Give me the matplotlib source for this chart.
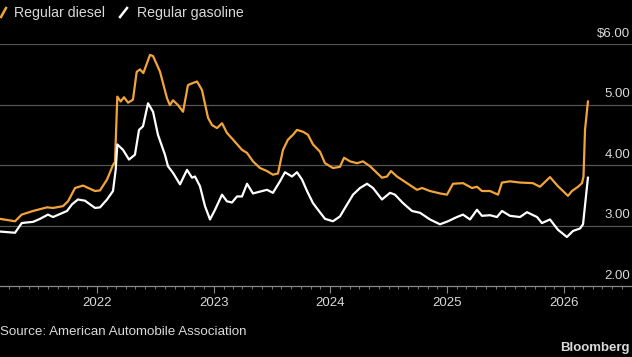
import matplotlib
matplotlib.use("Agg")
import matplotlib.pyplot as plt
import matplotlib.dates as mdates
from matplotlib.lines import Line2D
from matplotlib import transforms
import numpy as np
import pandas as pd

# AAA national average prices ($/gal), time as decimal year
diesel_t = [
    2021.169, 2021.298, 2021.355, 2021.452, 2021.572, 2021.623, 2021.709, 2021.752,
    2021.812, 2021.880, 2021.983, 2022.026, 2022.086, 2022.137, 2022.154, 2022.174,
    2022.203, 2022.231, 2022.266, 2022.308, 2022.340, 2022.368, 2022.397, 2022.454,
    2022.480, 2022.522, 2022.540, 2022.600, 2022.625, 2022.651, 2022.694, 2022.737,
    2022.779, 2022.814, 2022.857, 2022.899, 2022.951, 2022.985, 2023.028, 2023.071,
    2023.113, 2023.165, 2023.242, 2023.285, 2023.336, 2023.396, 2023.456, 2023.507,
    2023.550, 2023.593, 2023.636, 2023.679, 2023.713, 2023.764, 2023.807, 2023.850,
    2023.910, 2023.953, 2024.021, 2024.081, 2024.116, 2024.167, 2024.227, 2024.278,
    2024.338, 2024.441, 2024.484, 2024.518, 2024.569, 2024.655, 2024.741, 2024.784,
    2024.852, 2024.938, 2024.998, 2025.049, 2025.135, 2025.212, 2025.255, 2025.297,
    2025.366, 2025.435, 2025.469, 2025.537, 2025.623, 2025.734, 2025.794, 2025.880,
    2025.948, 2026.034, 2026.068, 2026.120, 2026.154, 2026.167, 2026.180, 2026.205,
]
diesel = [
    3.11, 3.07, 3.18, 3.24, 3.30, 3.29, 3.32, 3.40,
    3.62, 3.66, 3.57, 3.58, 3.76, 4.00, 4.05, 5.13,
    5.05, 5.12, 5.03, 5.08, 5.54, 5.58, 5.52, 5.82,
    5.80, 5.62, 5.54, 5.10, 4.99, 5.07, 4.99, 4.88,
    5.32, 5.35, 5.38, 5.24, 4.78, 4.66, 4.61, 4.69,
    4.53, 4.42, 4.25, 4.20, 4.06, 3.95, 3.90, 3.84,
    3.86, 4.25, 4.42, 4.50, 4.58, 4.55, 4.50, 4.34,
    4.22, 4.03, 3.95, 3.97, 4.12, 4.06, 4.03, 4.06,
    3.98, 3.79, 3.81, 3.90, 3.81, 3.70, 3.59, 3.62,
    3.57, 3.53, 3.51, 3.69, 3.70, 3.62, 3.64, 3.57,
    3.57, 3.51, 3.71, 3.73, 3.71, 3.70, 3.64, 3.80,
    3.65, 3.49, 3.57, 3.64, 3.70, 3.81, 4.58, 5.05,
]

gas_t = [
    2021.169, 2021.298, 2021.355, 2021.398, 2021.452, 2021.512, 2021.580, 2021.623,
    2021.683, 2021.743, 2021.786, 2021.837, 2021.897, 2021.983, 2022.026, 2022.086,
    2022.137, 2022.160, 2022.174, 2022.223, 2022.274, 2022.325, 2022.360, 2022.394,
    2022.437, 2022.480, 2022.522, 2022.582, 2022.608, 2022.651, 2022.711, 2022.771,
    2022.814, 2022.839, 2022.882, 2022.925, 2022.968, 2023.011, 2023.071, 2023.113,
    2023.156, 2023.199, 2023.242, 2023.285, 2023.336, 2023.396, 2023.456, 2023.507,
    2023.567, 2023.610, 2023.670, 2023.713, 2023.756, 2023.799, 2023.850, 2023.893,
    2023.953, 2024.021, 2024.081, 2024.124, 2024.193, 2024.253, 2024.313, 2024.364,
    2024.441, 2024.510, 2024.552, 2024.621, 2024.698, 2024.767, 2024.852, 2024.938,
    2025.006, 2025.083, 2025.135, 2025.195, 2025.255, 2025.297, 2025.366, 2025.426,
    2025.469, 2025.537, 2025.623, 2025.683, 2025.769, 2025.811, 2025.880, 2025.948,
    2026.025, 2026.077, 2026.137, 2026.163, 2026.205,
]
gasoline = [
    2.90, 2.88, 3.04, 3.05, 3.06, 3.11, 3.18, 3.14,
    3.19, 3.24, 3.35, 3.43, 3.41, 3.29, 3.30, 3.43,
    3.57, 3.92, 4.34, 4.25, 4.09, 4.17, 4.58, 4.64,
    5.02, 4.88, 4.50, 4.17, 3.98, 3.87, 3.68, 3.92,
    3.79, 3.81, 3.65, 3.32, 3.10, 3.26, 3.51, 3.40,
    3.38, 3.48, 3.48, 3.69, 3.53, 3.56, 3.59, 3.54,
    3.73, 3.88, 3.81, 3.88, 3.76, 3.57, 3.37, 3.26,
    3.11, 3.07, 3.15, 3.29, 3.51, 3.62, 3.69, 3.62,
    3.43, 3.54, 3.51, 3.37, 3.24, 3.21, 3.10, 3.02,
    3.07, 3.14, 3.18, 3.10, 3.26, 3.16, 3.17, 3.14,
    3.24, 3.16, 3.14, 3.22, 3.14, 3.04, 3.10, 2.93,
    2.81, 2.91, 2.95, 3.02, 3.79,
]

y_ticks = [2, 3, 4, 5, 6]
y_labels = ["2.00", "3.00", "4.00", "5.00", "$6.00"]
series_names = ["Regular diesel", "Regular gasoline"]

orange = "#f2a43a"
white = "#ffffff"
grid_c = "#555555"
text_c = "#d9d9d9"


def to_dates(years):
    years = np.asarray(years)
    return pd.Timestamp("2022-01-01") + pd.to_timedelta((years - 2022) * 365.25, unit="D")


plt.rcParams['font.family'] = ['Liberation Sans', 'DejaVu Sans']

fig = plt.figure(figsize=(6.32, 3.57), dpi=100, facecolor="black")
W, H = 632, 357
ax = fig.add_axes([0, (H - 286) / H, 1, (286 - 44) / H], facecolor="black")

ax.plot(to_dates(diesel_t), diesel, color=orange, lw=1.6, solid_joinstyle="round", zorder=3)
ax.plot(to_dates(gas_t), gasoline, color=white, lw=1.6, solid_joinstyle="round", zorder=4)

# x range: Jan 2022 sits ~97 px in, ~116.75 px per year
jan22 = mdates.date2num(pd.Timestamp("2022-01-01"))
px_day = 116.75 / 365.25
ax.set_xlim(jan22 - 97 / px_day, jan22 + (W - 97) / px_day)
ax.set_ylim(2, 6)

for v in y_ticks[1:]:
    ax.axhline(v, color=grid_c, lw=0.9, zorder=1)

off = transforms.offset_copy(ax.get_yaxis_transform(), fig=fig, x=0, y=3, units="points")
for v, lab in zip(y_ticks, y_labels):
    ax.text(0.997, v, lab, transform=off, ha="right", va="bottom",
            color=text_c, fontsize=9.5)

for s in ["top", "left", "right"]:
    ax.spines[s].set_visible(False)
ax.spines["bottom"].set_color("#8a8a8a")
ax.spines["bottom"].set_linewidth(0.9)
ax.set_yticks([])

ax.xaxis.set_major_locator(mdates.YearLocator())
ax.xaxis.set_major_formatter(mdates.DateFormatter("%Y"))
ax.xaxis.set_minor_locator(mdates.MonthLocator())
ax.tick_params(axis="x", which="major", length=5, width=0.8, color="#8a8a8a",
               labelcolor=text_c, labelsize=9.5, pad=3)
ax.tick_params(axis="x", which="minor", length=2.5, width=0.6, color="#8a8a8a")

# legend with slash markers
fy = lambda py: 1 - py / H
fx = lambda px: px / W
fig.add_artist(Line2D([fx(1), fx(6)], [fy(17), fy(8)], color=orange, lw=1.8,
                      transform=fig.transFigure))
fig.text(fx(14), fy(12.5), series_names[0], color=text_c, fontsize=10.2, va="center")
fig.add_artist(Line2D([fx(120), fx(127)], [fy(17), fy(8)], color=white, lw=1.8,
                      transform=fig.transFigure))
fig.text(fx(137), fy(12.5), series_names[1], color=text_c, fontsize=10.2, va="center")

fig.text(fx(0), fy(332), "Source: American Automobile Association", color=text_c,
         fontsize=9.6, va="center")
fig.text(fx(630), fy(348), "Bloomberg", color=text_c, fontsize=9.5, fontweight="bold",
         va="center", ha="right")

plt.savefig("out.png", dpi=100, facecolor="black")
